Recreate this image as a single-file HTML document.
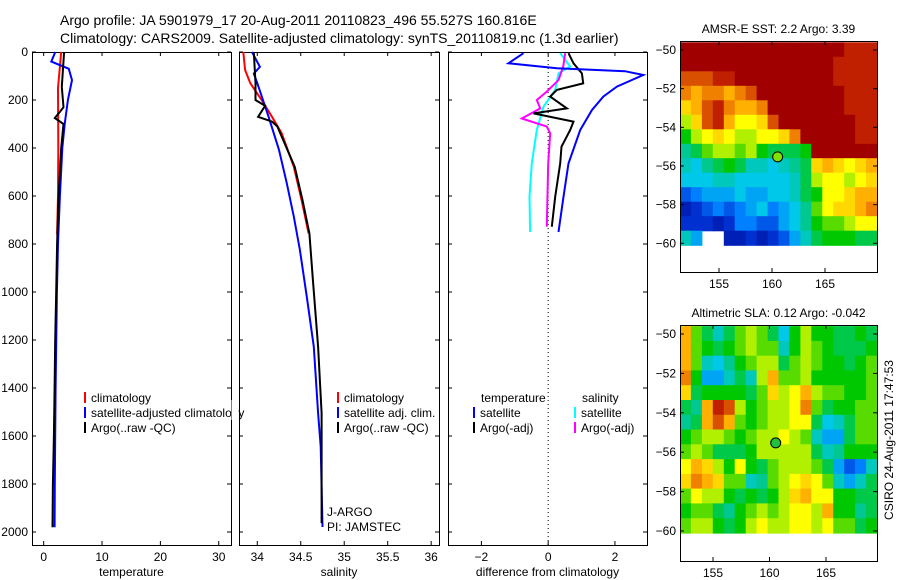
<!DOCTYPE html>
<html><head><meta charset="utf-8">
<style>
html,body{margin:0;padding:0;background:#fff;}
svg{display:block;font-family:"Liberation Sans",sans-serif;}
</style></head>
<body>
<svg id="fig" width="900" height="580" viewBox="0 0 900 580">
<text x="60" y="25" font-size="14">Argo profile: JA 5901979_17 20-Aug-2011 20110823_496 55.527S 160.816E</text>
<text x="60" y="43" font-size="14">Climatology: CARS2009. Satellite-adjusted climatology: synTS_20110819.nc (1.3d earlier)</text>
</svg>
<script>
// ---- data ----
const tClimDepth=[0,150,400,600,760];
const tClimVal=[3.0,2.45,2.5,2.45,2.3];
const tSatDepth=[0,40,70,117,200,300,400,600,800,1000,1400,1800,1980];
const tSatVal=[2.0,1.3,4.3,4.85,4.15,3.6,3.2,2.78,2.45,2.26,2.05,1.9,1.87];
const tArgoDepth=[0,146,230,255,275,300,400,600,800,1000,1200,1400,1600,1800,1980];
const tArgoVal=[3.5,3.1,3.4,2.6,1.9,3.4,3.0,2.55,2.3,2.15,1.98,1.87,1.75,1.58,1.52];

const sClimDepth=[0,75,130,200,270,338,478,617,756];
const sClimVal=[33.84,33.86,33.92,34.05,34.17,34.28,34.42,34.51,34.59];
const sSatDepth=[0,62,90,130,270,408,547,686,825,1020,1228,1505,1644,1979];
const sSatVal=[33.94,34.03,33.96,34.0,34.13,34.25,34.34,34.42,34.49,34.57,34.65,34.7,34.73,34.75];
const sArgoDepth=[0,130,200,224,270,290,310,478,617,756,950,1228,1505,1963];
const sArgoVal=[33.96,33.98,33.98,34.09,34.01,34.17,34.23,34.43,34.52,34.6,34.64,34.7,34.74,34.74];

const dTSatDepth=[5,47,68,80,96,144,186,242,325,464,603,750];
const dTSatVal=[-0.74,-1.19,0.26,2.3,2.85,2.06,1.65,1.31,0.96,0.61,0.46,0.31];
const dTArgoDepth=[5,47,89,131,158,186,235,256,290,325,394,464,603,728];
const dTArgoVal=[0.61,0.76,1.01,1.05,0.26,0.06,0.56,-0.44,0.76,0.66,0.4,0.36,0.21,0.11];
const dSSatDepth=[5,61,89,158,228,325,464,603,750];
const dSSatVal=[0.36,0.66,0.31,0.21,-0.14,-0.34,-0.49,-0.56,-0.54];
const dSArgoDepth=[5,61,117,165,200,235,277,311,339,464,728];
const dSArgoVal=[0.51,0.45,0.31,-0.04,-0.34,-0.24,-0.79,-0.04,0.06,0,-0.04];

const depthTicks=[0,200,400,600,800,1000,1200,1400,1600,1800,2000];
const tempTicks=[0,10,20,30];
const salTicks=[34,34.5,35,35.5,36];
const salTickLabels=["34","34.5","35","35.5","36"];
const diffTicks=[-2,0,2];

const sstGrid=[
[10,10,10,10,10,10,10,10,10,10,10,10,10,10,10,9.5,9.5,9.5],
[10,10,10,10,10,10,10,10,10,10,10,10,10,10,9.5,9.5,9.5,9.5],
[9,9,9,9.5,9.5,10,10,10,10,10,10,10,10,10,9.5,9.5,9.5,9.5],
[8.5,8,8.5,8.5,8,8.5,9,10,10,10,10,10,10,10,10,9.5,9.5,9.5],
[7.5,8,9,9.5,8.5,8,8,8.5,10,10,10,10,10,10,10,9.5,9.5,9.5],
[6.5,7.5,9,9.5,8,7,7,7.5,9,10,10,10,10,10,10,10,9.5,9.5],
[5.5,6.5,7,7.5,7,6.5,6.5,7,7,7.5,8.5,10,10,10,10,10,9.5,9.5],
[4.5,5,6,6.5,6.5,6,6.5,5.5,5,5,5,5.5,10,10,10,10,10,10],
[4,3.5,4.5,5,5.5,5,4,4,3.5,4,4.5,5,7.5,8,7.5,7,7.5,8],
[3.5,3.5,3.5,4,4,3.5,3.5,3.5,3.5,3.5,4,5,6.5,7,7,6.5,7,7.5],
[2,2.5,3,3,3,3.5,3,3,3.5,3.5,4,5,5.5,7,7,7.5,8,8],
[1,1.5,2,2.5,2,2.5,3,3.5,2.5,3,3.5,4.5,6,7,7.5,7.5,8,8.5],
[1.5,1.5,1.5,1,1.5,2.5,2.5,2,2,3,3.5,4.5,5.5,6,6,6.5,7,7],
[4,3,null,null,1,1,1.5,1,1.5,2,3,4,5,5.5,5.5,5.5,5,5]];
const slaGrid=[
[8,6,5,4,5,6,6.5,6,5,3.5,5.5,6.5,5.5,5.5,5,5,5.5,5],
[8,6,5.5,5,5.5,6,6.5,6,6,4,5.5,6.5,6,5.5,5,5,5,5.5],
[8,6,4,3.5,4.5,5.5,6,6.5,6.5,5,6,6.5,6,5.5,5.5,5,5.5,6],
[8.5,5.5,3,3,4,5,4,6.5,8,6,6,6.5,5.5,5.5,5.5,5.5,5.5,6],
[7.5,5,5.5,5.5,5.5,5.5,5,6,7.5,6.5,7,8,6.5,6,6,5.5,5.5,6],
[5,4.5,8,9.5,9,6.5,5.5,6,6.5,6.5,7,8.5,6,5,5.5,5.5,6,6],
[4.5,5,8,9,8,6,5.5,6,6.5,6.5,7,7,5,3.5,4,5,6,6],
[5.5,6,6.5,6.5,6,5.5,6,6.5,6.5,7,6.5,6,4,3,3,5,6,6],
[6,6.5,6,5,5,5,5.5,6.5,6.5,6.5,6.5,6.5,5,4,4.5,5.5,5.5,5.5],
[7,8,7.5,6.5,5.5,7,5.5,5,6,6.5,6.5,6.5,6,5,3,2,2.5,4],
[7.5,8.5,8,7.5,6,6,4,4.5,6,6.5,7,7.5,7,6,4,3,4,5],
[6,7,6.5,6.5,5.5,5,5.5,5,5.5,6.5,7.5,8,7,7,5.5,5.5,5,5],
[5.5,6,6,5,4.5,5.5,6,6.5,6,6.5,7,7,6.5,8,5.5,5.5,4.5,5],
[6,6.5,6.5,5.5,5,5.5,6.5,7,6.5,6.5,7,7,6.5,7,6,6,5,5.5]];
const latTicks=[-50,-52,-54,-56,-58,-60];
const lonTicks=[155,160,165];
const floatLon=160.816, floatLat=-55.527;

// ---- drawing ----
const NS="http://www.w3.org/2000/svg";
const svg=document.getElementById('fig');
function mk(tag,attrs,parent){const e=document.createElementNS(NS,tag);for(const k in attrs)e.setAttribute(k,attrs[k]);(parent||svg).appendChild(e);return e;}
function txt(x,y,s,size,anchor,parent){const t=mk('text',{x:x,y:y,'font-size':size,'text-anchor':anchor||'start'},parent);t.textContent=s;return t;}

const yTop=52, yPx=0.24, yBot=545;
function yD(d){return yTop+d*yPx;}

const panels=[
 {name:'temperature-panel',x0:32,x1:231,v0:-2,v1:32.1,ticks:tempTicks,labels:tempTicks.map(String),title:'temperature',ylabels:true},
 {name:'salinity-panel',x0:239,x1:439,v0:33.79,v1:36.09,ticks:salTicks,labels:salTickLabels,title:'salinity'},
 {name:'difference-panel',x0:448,x1:647,v0:-3,v1:2.96,ticks:diffTicks,labels:diffTicks.map(String),title:'difference from climatology'}];
panels.forEach(p=>{p.xs=v=>p.x0+(v-p.v0)/(p.v1-p.v0)*(p.x1-p.x0);});

panels.forEach(p=>{
 const g=mk('g',{});
 
 
 mk('rect',{x:p.x0+0.5,y:yTop+0.5,width:p.x1-p.x0,height:yBot-yTop,fill:'none',stroke:'#000','stroke-width':1},g);
 p.ticks.forEach((v,i)=>{const x=p.xs(v);
  mk('line',{x1:x,x2:x,y1:yTop,y2:yTop+4,stroke:'#000'},g);
  mk('line',{x1:x,x2:x,y1:yBot,y2:yBot-4,stroke:'#000'},g);
  const t=txt(x,561,p.labels[i].replace('-','\u2212'),12,'middle',g);
  
  
 });
 depthTicks.forEach(d=>{const y=yD(d);
  mk('line',{x1:p.x0,x2:p.x0+4,y1:y,y2:y,stroke:'#000'},g);
  mk('line',{x1:p.x1,x2:p.x1-4,y1:y,y2:y,stroke:'#000'},g);
  if(p.ylabels){const t=txt(28,y+4,String(d),12,'end',g);
   
   }
 });
 const at=txt((p.x0+p.x1)/2,576,p.title,12,'middle',g);
 
 
});

function line(p,depths,vals,color,name){
 const pts=depths.map((d,i)=>p.xs(vals[i]).toFixed(1)+','+yD(d).toFixed(1)).join(' ');
 const e=mk('polyline',{points:pts,fill:'none',stroke:color,'stroke-width':2});
 
 
}
const [P1,P2,P3]=panels;
const zl=mk('line',{x1:P3.xs(0),x2:P3.xs(0),y1:yTop,y2:yBot,stroke:'#000','stroke-dasharray':'1,3'});


line(P1,tClimDepth,tClimVal,'#f00','temp-climatology-line');
line(P1,tSatDepth,tSatVal,'#00f','temp-satellite-line');
line(P1,tArgoDepth,tArgoVal,'#000','temp-argo-line');
line(P2,sClimDepth,sClimVal,'#f00','sal-climatology-line');
line(P2,sSatDepth,sSatVal,'#00f','sal-satellite-line');
line(P2,sArgoDepth,sArgoVal,'#000','sal-argo-line');
line(P3,dSSatDepth,dSSatVal,'#0ff','diff-sal-satellite-line');
line(P3,dSArgoDepth,dSArgoVal,'#f0f','diff-sal-argo-line');
line(P3,dTArgoDepth,dTArgoVal,'#000','diff-temp-argo-line');
line(P3,dTSatDepth,dTSatVal,'#00f','diff-temp-satellite-line');

function legend(x,y,color,label,name){
 const g=mk('g',{});
 
 
 mk('rect',{x:x,y:y-10,width:2,height:11,fill:color},g);
 txt(x+7,y,label,12,'start',g);
}
legend(84,402,'#f00','climatology','legend-climatology');
legend(84,417,'#00f','satellite-adjusted climatology','legend-satellite-adjusted');
legend(84,432,'#000','Argo(..raw -QC)','legend-argo');
mk('rect',{x:231.5,y:400,width:7,height:20,fill:'#fff'});
mk('line',{x1:239.5,x2:239.5,y1:395,y2:425,stroke:'#000'});
legend(337,402,'#f00','climatology','legend-sal-climatology');
legend(337,417,'#00f','satellite adj. clim.','legend-sal-satellite');
legend(337,432,'#000','Argo(..raw -QC)','legend-sal-argo');
txt(481,402,'temperature',12);
txt(582,402,'salinity',12);
legend(473,417,'#00f','satellite','legend-diff-temp-satellite');
legend(473,432,'#000','Argo(-adj)','legend-diff-temp-argo');
legend(574,417,'#0ff','satellite','legend-diff-sal-satellite');
legend(574,432,'#f0f','Argo(-adj)','legend-diff-sal-argo');
txt(327,516,'J-ARGO',12);
txt(327,531,'PI: JAMSTEC',12);

// ---- maps ----
const cmapStops=[0,1.5,2.5,3.5,4.5,5.5,6.5,7,8,8.5,9.5,10];
const cmapCols=[[0,0,128],[0,48,208],[0,128,255],[0,200,232],[0,200,144],[0,200,0],[176,240,0],[255,255,0],[255,176,0],[240,128,0],[192,32,0],[160,0,0]];
function cmap(v){
 v=Math.max(0,Math.min(10,v));
 let i=0; while(i<cmapStops.length-2 && v>cmapStops[i+1]) i++;
 const f=(v-cmapStops[i])/(cmapStops[i+1]-cmapStops[i]);
 const a=cmapCols[i], b=cmapCols[i+1];
 return 'rgb('+[0,1,2].map(k=>Math.round(a[k]+(b[k]-a[k])*f)).join(',')+')';
}
function drawMap(m){
 const g=mk('g',{});
 
 
 const ys=lat=>m.y50+(-50-lat)*m.pxDeg;
 const xs=lon=>m.x155+(lon-155)*m.pxLon;
 const rows=m.grid.length, cols=m.grid[0].length;
 const gy0=ys(-49.6), gy1=ys(-60.1), gx0=m.x0, gx1=m.x1;
 const ch=(gy1-gy0)/rows, cw=(gx1-gx0)/cols;
 m.grid.forEach((row,r)=>row.forEach((v,c)=>{ if(v===null)return;
  const cell=mk('rect',{x:(gx0+c*cw).toFixed(1),y:(gy0+r*ch).toFixed(1),width:(cw+0.6).toFixed(1),height:(ch+0.6).toFixed(1),fill:cmap(v)},g);
  
  
 }));
 mk('rect',{x:m.x0+0.5,y:m.y0+0.5,width:m.x1-m.x0,height:m.y1-m.y0,fill:'none',stroke:'#000'},g);
 latTicks.forEach(l=>{const y=ys(l);
  mk('line',{x1:m.x0,x2:m.x0+4,y1:y,y2:y,stroke:'#000'},g);
  mk('line',{x1:m.x1,x2:m.x1-4,y1:y,y2:y,stroke:'#000'},g);
  const t=txt(m.x0-4,y+4,String(l).replace('-','\u2212'),12,'end',g);
  
  });
 lonTicks.forEach(l=>{const x=xs(l);
  mk('line',{x1:x,x2:x,y1:m.y0,y2:m.y0+4,stroke:'#000'},g);
  mk('line',{x1:x,x2:x,y1:m.y1,y2:m.y1-4,stroke:'#000'},g);
  const t=txt(x,m.y1+16,String(l),12,'middle',g);
  
  });
 const ti=txt((m.x0+m.x1)/2,m.y0-8,m.title,12,'middle',g);
 
 
 const mk1=mk('circle',{cx:xs(floatLon)-3,cy:ys(floatLat),r:5,fill:m.dot,stroke:'#000'},g);
 
 
}
drawMap({name:'sst-map',x0:680,x1:877,y0:41,y1:272,y50:50,pxDeg:19.33,x155:719,pxLon:10.6,grid:sstGrid,title:'AMSR-E SST: 2.2  Argo: 3.39',dot:'#80e000'});
drawMap({name:'sla-map',x0:680,x1:877,y0:325,y1:561,y50:334,pxDeg:19.7,x155:713,pxLon:11.3,grid:slaGrid,title:'Altimetric SLA: 0.12  Argo: -0.042',dot:'#20c040'});
const stamp=txt(0,0,'CSIRO 24-Aug-2011 17:47:53',12,'middle');
stamp.setAttribute('transform','translate(893,440) rotate(-90)');


</script>
</body></html>
